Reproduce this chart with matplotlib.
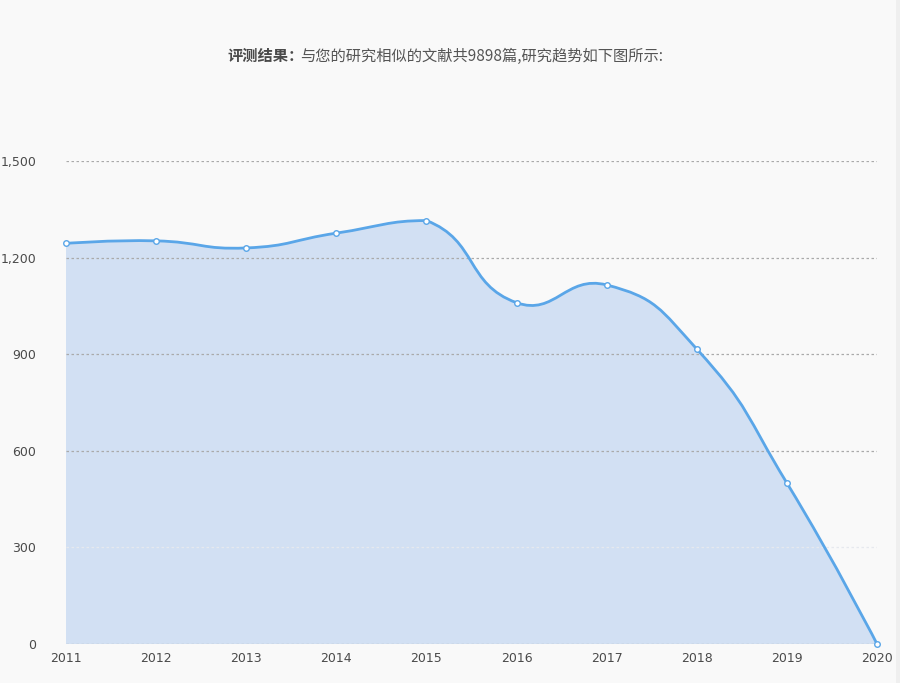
import matplotlib
matplotlib.use('Agg')
import matplotlib.pyplot as plt
from matplotlib.path import Path
from matplotlib.patches import PathPatch, Rectangle
import numpy as np

plt.rcParams['font.family'] = ['Noto Sans CJK SC', 'DejaVu Sans']

years = [2011, 2012, 2013, 2014, 2015, 2016, 2017, 2018, 2019, 2020]
counts = [1244, 1252, 1230, 1276, 1315, 1060, 1115, 916, 500, 0]
yticks = [0, 300, 600, 900, 1200, 1500]

line_color = '#5aa6e8'
fill_color = '#d2e0f3'
bg = '#f9f9f9'

W, H = 900, 683
fig = plt.figure(figsize=(W / 100, H / 100), dpi=100, facecolor=bg)
ax = fig.add_axes([66 / W, (H - 644) / H, (877 - 66) / W, (644 - 161) / H])
ax.set_facecolor(bg)
ax.set_xlim(years[0], years[-1])
ax.set_ylim(0, 1500)


def smooth_path(xs, ys, sx, sy, smooth=0.5):
    # bezier smoothing like echarts (smooth: true), control points kept
    # inside the bounding box of the points, distances in pixel space
    px = np.array(xs, float) * sx
    py = np.array(ys, float) * sy
    lo = np.array([px.min(), py.min()])
    hi = np.array([px.max(), py.max()])
    n = len(px)
    cps = []
    for i in range(n):
        p = np.array([px[i], py[i]])
        if i == 0 or i == n - 1:
            cps.append((p, p))
            continue
        prev = np.array([px[i - 1], py[i - 1]])
        nxt = np.array([px[i + 1], py[i + 1]])
        v = (nxt - prev) * smooth
        d0 = np.hypot(*(p - prev))
        d1 = np.hypot(*(nxt - p))
        s = d0 + d1
        c0 = np.clip(p - v * d0 / s, lo, hi)
        c1 = np.clip(p + v * d1 / s, lo, hi)
        cps.append((c0, c1))
    verts = [(px[0], py[0])]
    codes = [Path.MOVETO]
    for i in range(1, n):
        a = cps[i - 1][1]
        b = cps[i][0]
        verts += [tuple(a), tuple(b), (px[i], py[i])]
        codes += [Path.CURVE4] * 3
    verts = [(x / sx, y / sy) for x, y in verts]
    return verts, codes


sx = (877 - 66) / (years[-1] - years[0])
sy = (644 - 161) / 1500
verts, codes = smooth_path(years, counts, sx, sy)

fill_verts = verts + [(years[-1], 0), (years[0], 0), verts[0]]
fill_codes = codes + [Path.LINETO, Path.LINETO, Path.CLOSEPOLY]
ax.add_patch(PathPatch(Path(fill_verts, fill_codes), facecolor=fill_color,
                       edgecolor='none', zorder=2))
ax.add_patch(PathPatch(Path(verts, codes), facecolor='none',
                       edgecolor=line_color, lw=2, zorder=3))
ax.plot(years, counts, 'o', ms=4, mfc='white', mec=line_color, mew=1,
        zorder=4, clip_on=False)

for t in yticks:
    c = '#e6e9ee' if t == 300 else '#aaaaaa'
    ax.axhline(t, color=c, lw=0.9, ls=(0, (2, 2)), zorder=2.5 if t else 3)

for s in ax.spines.values():
    s.set_visible(False)
ax.set_xticks(years)
ax.set_xticklabels([str(y) for y in years])
ax.set_yticks(yticks)
ax.set_yticklabels(['{:,}'.format(t) for t in yticks])
ax.tick_params(length=0, colors='#4a4a4a', labelsize=9)
ax.tick_params(axis='y', pad=21.5)
ax.tick_params(axis='x', pad=6)
for lab in ax.get_yticklabels() + ax.get_xticklabels():
    lab.set_family('DejaVu Sans')

fig.text(227 / W, 1 - 56 / H, '评测结果：', ha='left', va='center',
         fontsize=11, fontweight='bold', color='#4a4a4a')
fig.text(300 / W, 1 - 56 / H, '与您的研究相似的文献共9898篇,研究趋势如下图所示:',
         ha='left', va='center', fontsize=11, color='#555555')

fig.add_artist(Rectangle((896 / W, 0), 4 / W, 1, transform=fig.transFigure,
                         facecolor='#efefef', edgecolor='none'))

fig.savefig('out.png', dpi=100, facecolor=bg)
